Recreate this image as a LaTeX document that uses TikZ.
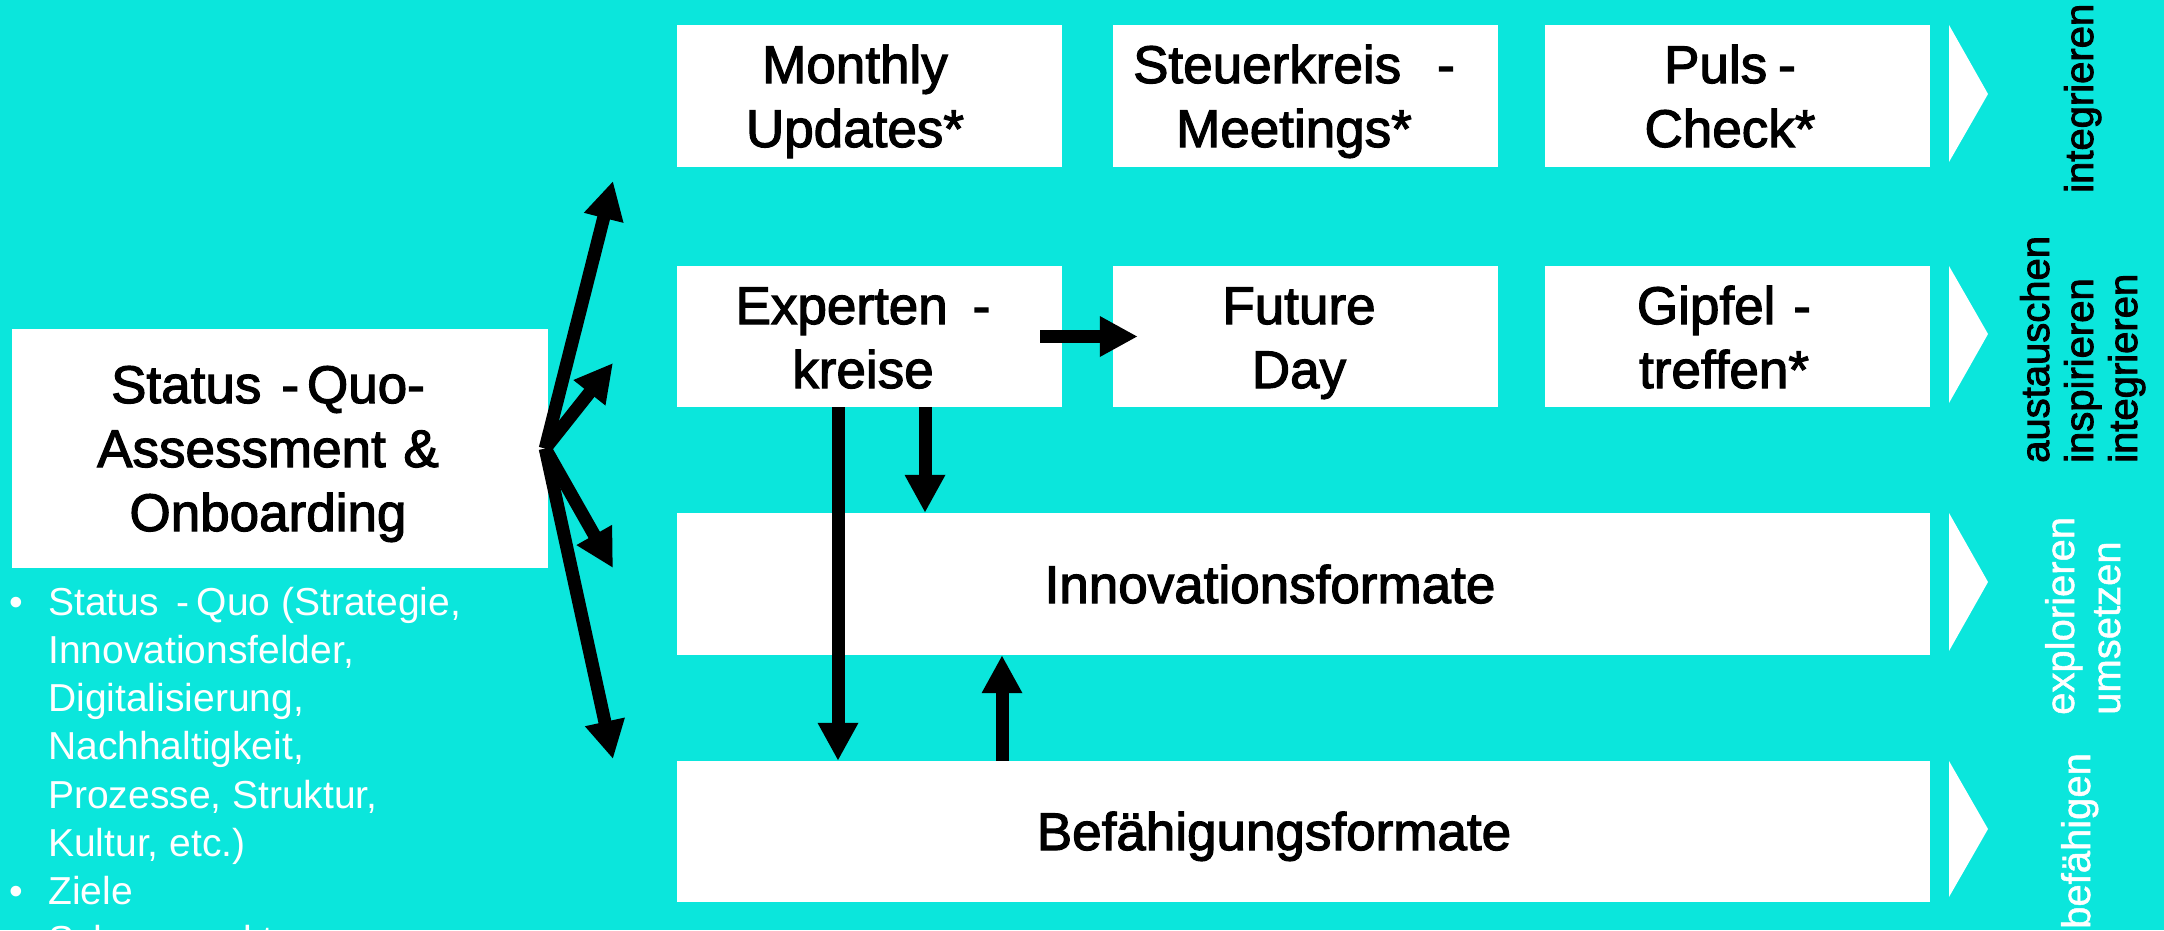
\documentclass[tikz,border=0pt]{standalone}
\usepackage{fontspec}
\setmainfont{Liberation Sans}
\newfontfamily\heavy[FakeBold=2.2]{Liberation Sans}
\newfontfamily\semi[FakeBold=1.2]{Liberation Sans}
\usetikzlibrary{arrows.meta}
\definecolor{bgc}{RGB}{11,230,220}
\begin{document}
\begin{tikzpicture}[x=1pt,y=-1pt,
  box/.style={fill=white, draw=none, inner sep=0, minimum width=385pt, minimum height=142pt},
  lbl/.style={anchor=base, inner sep=0, text width=560pt, align=center, font=\heavy\fontsize{53}{64}\selectfont},
  vlbl/.style={rotate=90, anchor=base west, inner sep=0, font=\heavy\fontsize{40}{45}\selectfont},
  wv/.style={rotate=90, anchor=base west, inner sep=0, text=white, font=\semi\fontsize{40}{45}\selectfont},
  blt/.style={anchor=base west, inner sep=0, text=white, font=\fontsize{39}{48}\selectfont},
  dot/.style={anchor=base, inner sep=0, text=white, font=\fontsize{39}{48}\selectfont},
  arr/.style={line width=13pt, -{Triangle[length=38pt,width=38pt]}},
  tri/.style={fill=white}]
\useasboundingbox (0,0) rectangle (2164,930);
\fill[bgc] (0,0) rectangle (2164,930);

% boxes
\node[box] (mu) at (869.5,96) {};
\node[box] (sk) at (1305.5,96) {};
\node[box] (pc) at (1737.5,96) {};
\node[box, minimum height=141pt] (ex) at (869.5,336.5) {};
\node[box, minimum height=141pt] (fd) at (1305.5,336.5) {};
\node[box, minimum height=141pt] (gt) at (1737.5,336.5) {};
\node[box, minimum width=1253pt] (in) at (1303.5,584) {};
\node[box, minimum width=1253pt, minimum height=141pt] (bf) at (1303.5,831.5) {};
\node[box, minimum width=536pt, minimum height=239pt] (st) at (280,448.5) {};

% box texts
\node[lbl] (tmu) at (855,83) {Monthly\\Updates*};
\node[lbl] (tsk) at (1294,83) {Steuerkreis\hspace{36pt}-\\Meetings*};
\node[lbl] (tpc) at (1730,83) {Puls\hspace{11pt}-\\Check*};
\node[lbl] (tex) at (863,324) {Experten\hspace{25pt}-\\kreise};
\node[lbl] (tfd) at (1299,324) {Future\\Day};
\node[lbl] (tgt) at (1724,324) {Gipfel\hspace{18pt}-\\treffen*};
\node[lbl] (tin) at (1270,603) {Innovationsformate};
\node[lbl] (tbf) at (1274,850) {Befähigungsformate};
\node[lbl] (tst) at (268,403) {Status\hspace{20pt}-\hspace{8pt}Quo-\\Assessment \&\\Onboarding};

% right triangles
\fill[tri] (1949,25) -- (1988,94) -- (1949,162) -- cycle;
\fill[tri] (1949,266) -- (1988,334) -- (1949,403) -- cycle;
\fill[tri] (1949,513) -- (1988,582) -- (1949,651) -- cycle;
\fill[tri] (1949,761) -- (1988,829) -- (1949,897) -- cycle;

% vertical labels
\node[vlbl] (v1) at (2093,193) {integrieren};
\node[vlbl] (v2a) at (2049,463) {austauschen};
\node[vlbl] (v2b) at (2093,463) {inspirieren};
\node[vlbl] (v2c) at (2137,463) {integrieren};
\node[wv] (v3a) at (2074,715) {explorieren};
\node[wv] (v3b) at (2120,715) {umsetzen};
\node[wv] (v4) at (2090,929) {befähigen};

% bullet list
\node[dot] (d1) at (16,615) {•};
\node[blt] (b1) at (48,615) {Status\hspace{18pt}-\hspace{7pt}Quo (Strategie,};
\node[blt] (b2) at (48,663.3) {Innovationsfelder,};
\node[blt] (b3) at (48,711.6) {Digitalisierung,};
\node[blt] (b4) at (48,759.9) {Nachhaltigkeit,};
\node[blt] (b5) at (48,808.2) {Prozesse, Struktur,};
\node[blt] (b6) at (48,856.5) {Kultur, etc.)};
\node[dot] (d7) at (16,904.8) {•};
\node[blt] (b7) at (48,904.8) {Ziele};
\node[blt] (b8) at (48,953.1) {Schwerpunkte};

% fan of arrows from the status box
\coordinate (t1) at (613,181);
\coordinate (t2) at (613,363);
\coordinate (t3) at (613,568);
\coordinate (t4) at (613,759);
\draw[arr] ([xshift=-3]st.east) -- (t1);
\draw[arr] ([xshift=-3]st.east) -- (t2);
\draw[arr] ([xshift=-3]st.east) -- (t3);
\draw[arr] ([xshift=-3]st.east) -- (t4);

% other arrows
\draw[arr] ([xshift=-22]ex.east) -- ([xshift=25]fd.west);
\draw[arr] ([xshift=-31.5]ex.south) -- ([xshift=-31.5]ex.south |- bf.north);
\draw[arr] ([xshift=55.5]ex.south) -- ([xshift=55.5]ex.south |- in.north);
\draw[arr] ([xshift=-301.5]bf.north) -- ([xshift=-301.5]bf.north |- in.south);
\end{tikzpicture}
\end{document}
